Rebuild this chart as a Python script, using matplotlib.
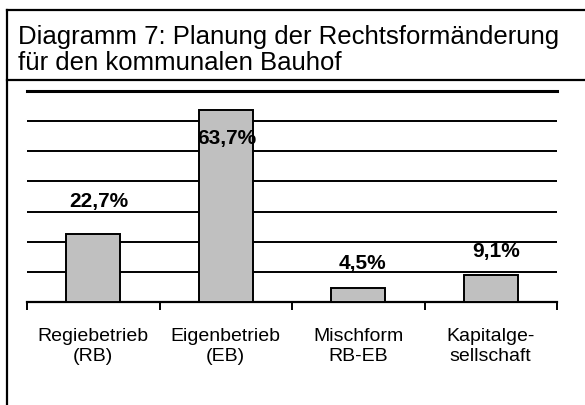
import matplotlib
matplotlib.use("Agg")
import matplotlib.pyplot as plt
from matplotlib.lines import Line2D
import numpy as np

plt.rcParams['font.family'] = ['Liberation Sans', 'DejaVu Sans']

kategorien = ["Regiebetrieb\n(RB)", "Eigenbetrieb\n(EB)", "Mischform\nRB-EB", "Kapitalge-\nsellschaft"]
werte = [22.7, 63.7, 4.5, 9.1]
beschriftung = ["22,7%", "63,7%", "4,5%", "9,1%"]
# where the labels sit (moved by hand in the original)
label_y = [33.2, 54.4, 12.9, 16.6]
label_dx = [0.04, 0.01, 0.03, 0.04]

fig = plt.figure(figsize=(5.85, 4.05), dpi=100)

# outer frame + title separator
fig.add_artist(Line2D([7/585, 7/585], [0, 1 - 10/405], color='black', lw=1.6))
fig.add_artist(Line2D([7/585, 1], [1 - 10/405, 1 - 10/405], color='black', lw=1.6))
fig.add_artist(Line2D([7/585, 1], [1 - 80/405, 1 - 80/405], color='black', lw=1.6))

fig.text(18/585, 1 - 44/405, "Diagramm 7: Planung der Rechtsformänderung",
         fontsize=18.5, va='baseline', ha='left')
fig.text(18/585, 1 - 70/405, "für den kommunalen Bauhof",
         fontsize=18.5, va='baseline', ha='left')

ax = fig.add_axes([27/585, 1 - 302/405, 530/585, 211/405])
x = np.arange(len(werte))
ax.set_axisbelow(True)
ax.bar(x, werte, width=0.41, color='#c0c0c0', edgecolor='black', linewidth=1.4, zorder=3)

for i in range(len(werte)):
    ax.text(x[i] + label_dx[i], label_y[i], beschriftung[i], ha='center', va='center',
            fontsize=15, fontweight='bold', zorder=4)

ax.set_xlim(-0.5, len(werte) - 0.5)
ax.set_ylim(0, 70)
ax.set_yticks(np.arange(0, 71, 10))
ax.yaxis.grid(True, color='black', linewidth=1.4)
ax.tick_params(axis='y', left=False, labelleft=False)

ax.set_xticks(x)
ax.set_xticklabels(kategorien, fontsize=14)
ax.tick_params(axis='x', which='major', length=0, pad=19)
ax.set_xticks(np.arange(-0.5, len(werte)), minor=True)
ax.tick_params(axis='x', which='minor', length=6, width=1.4, color='black')

for s in ['left', 'right']:
    ax.spines[s].set_visible(False)
ax.spines['top'].set_linewidth(2.2)
ax.spines['bottom'].set_linewidth(1.6)

fig.savefig("out.png", dpi=100)
